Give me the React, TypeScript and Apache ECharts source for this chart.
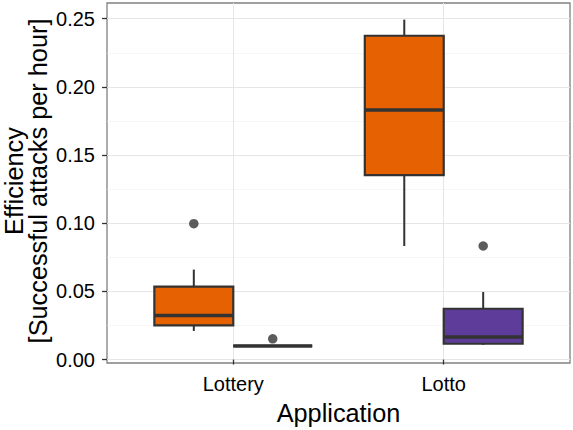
import React, { useEffect, useRef } from "react";
import * as echarts from "echarts";

// Applications on the x axis
const categories = ["Lottery", "Lotto"];

// Five-number summaries per application: [lower whisker, Q1, median, Q3, upper whisker]
const orangeStats = [
  [0.021, 0.0251, 0.0323, 0.0535, 0.066],
  [0.0833, 0.1353, 0.183, 0.2375, 0.2493],
];
const purpleStats = [
  [0.01, 0.01, 0.01, 0.01, 0.01],
  [0.0108, 0.0116, 0.0166, 0.0373, 0.0496],
];

// Outliers: [application index, value]
const orangeOutliers = [[0, 0.0997]];
const purpleOutliers = [
  [0, 0.0152],
  [1, 0.0833],
];

const yTicks = [0, 0.05, 0.1, 0.15, 0.2, 0.25];
const yMinorTicks = [0.025, 0.075, 0.125, 0.175, 0.225];

const ORANGE = "#e66101";
const PURPLE = "#5e3c99";
const INK = "#333333";
const FONT = "'Liberation Sans', Arial, Helvetica, sans-serif";

const HALF = 0.1875; // half of a dodged box, in category units

function boxSeries(name: string, stats: number[][], offset: number, fill: string) {
  return {
    name,
    type: "custom",
    data: stats.map((s, i) => [i, ...s]),
    encode: { x: 0, y: [1, 2, 3, 4, 5] },
    renderItem: (_params: any, api: any) => {
      const x = api.value(0) + 1 + offset;
      const low = api.value(1);
      const q1 = api.value(2);
      const med = api.value(3);
      const q3 = api.value(4);
      const high = api.value(5);
      const [cx] = api.coord([x, 0]);
      const [lx] = api.coord([x - HALF, 0]);
      const [rx] = api.coord([x + HALF, 0]);
      const yLow = api.coord([x, low])[1];
      const yQ1 = api.coord([x, q1])[1];
      const yMed = api.coord([x, med])[1];
      const yQ3 = api.coord([x, q3])[1];
      const yHigh = api.coord([x, high])[1];
      return {
        type: "group",
        children: [
          {
            type: "line",
            shape: { x1: cx, y1: yHigh, x2: cx, y2: yQ3 },
            style: { stroke: INK, lineWidth: 2 },
          },
          {
            type: "line",
            shape: { x1: cx, y1: yQ1, x2: cx, y2: yLow },
            style: { stroke: INK, lineWidth: 2 },
          },
          {
            type: "rect",
            shape: { x: lx, y: yQ3, width: rx - lx, height: yQ1 - yQ3 },
            style: { fill, stroke: INK, lineWidth: 2.2 },
          },
          {
            type: "line",
            shape: { x1: lx, y1: yMed, x2: rx, y2: yMed },
            style: { stroke: INK, lineWidth: 3.6 },
          },
        ],
      };
    },
    z: 3,
  };
}

function outlierSeries(name: string, points: number[][], offset: number) {
  return {
    name,
    type: "scatter",
    data: points.map(([c, v]) => [c + 1 + offset, v]),
    symbol: "circle",
    symbolSize: 9.5,
    itemStyle: { color: INK },
    z: 4,
  };
}

export default function App() {
  const ref = useRef<HTMLDivElement>(null);

  useEffect(() => {
    if (!ref.current) return;
    const chart = echarts.init(ref.current, undefined, { renderer: "svg" });
    chart.setOption({
      animation: false,
      backgroundColor: "#ffffff",
      grid: {
        left: 107,
        right: 3,
        top: 3,
        bottom: 63,
        show: true,
        borderColor: "#808080",
        borderWidth: 1.3,
        backgroundColor: "transparent",
      },
      xAxis: {
        type: "value",
        min: 0.4,
        max: 2.6,
        name: "Application",
        nameLocation: "middle",
        nameGap: 37,
        nameTextStyle: { fontFamily: FONT, fontSize: 25.3, color: "#000" },
        axisLine: { show: false },
        axisTick: {
          show: true,
          length: 5,
          customValues: [1, 2],
          lineStyle: { color: INK, width: 1.3 },
        },
        axisLabel: {
          customValues: [1, 2],
          formatter: (v: number) => categories[Math.round(v) - 1] ?? "",
          fontFamily: FONT,
          fontSize: 20,
          color: "#000",
          margin: 11,
        },
        splitLine: { show: true, lineStyle: { color: "#e6e6e6", width: 1 } },
      },
      yAxis: [
        {
          type: "value",
          min: -0.0025,
          max: 0.2615,
          axisLine: { show: false },
          axisTick: {
            show: true,
            length: 5,
            customValues: yTicks,
            lineStyle: { color: INK, width: 1.3 },
          },
          axisLabel: {
            customValues: yTicks,
            formatter: (v: number) => v.toFixed(2),
            fontFamily: FONT,
            fontSize: 20,
            color: "#000",
            margin: 12,
          },
          splitLine: { show: true, lineStyle: { color: "#e6e6e6", width: 1 } },
        },
        {
          type: "value",
          min: -0.0025,
          max: 0.2615,
          position: "left",
          axisLine: { show: false },
          axisTick: { show: false, customValues: yMinorTicks },
          axisLabel: { show: false, customValues: yMinorTicks },
          splitLine: { show: true, lineStyle: { color: "#f0f0f0", width: 0.6 } },
        },
      ],
      graphic: [
        {
          type: "text",
          x: 25.5,
          y: 181,
          rotation: Math.PI / 2,
          style: {
            text: "Efficiency\n[Successful attacks per hour]",
            font: `25.3px ${FONT}`,
            fill: "#000",
            align: "center",
            verticalAlign: "middle",
            lineHeight: 24,
          },
        },
      ],
      series: [
        boxSeries("orange", orangeStats, -HALF, ORANGE),
        boxSeries("purple", purpleStats, HALF, PURPLE),
        outlierSeries("orange outliers", orangeOutliers, -HALF),
        outlierSeries("purple outliers", purpleOutliers, HALF),
      ],
    });
    return () => chart.dispose();
  }, []);

  return (
    <div
      ref={ref}
      style={{ position: "fixed", left: 0, top: 0, width: 573, height: 430 }}
    />
  );
}
